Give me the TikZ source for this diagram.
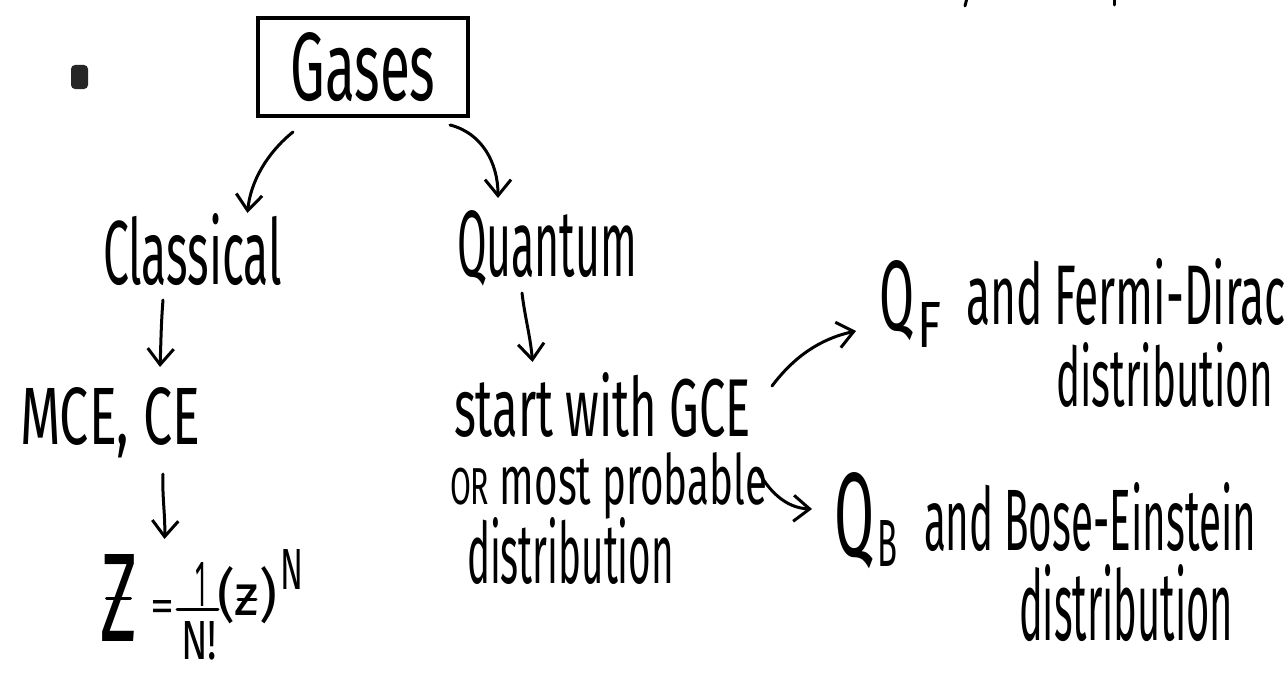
\documentclass[tikz,border=0pt]{standalone}
\usepackage{fontspec}
\usepackage{graphicx}
\usetikzlibrary{arrows.meta}
\newfontfamily\hand{Fira Sans}
\newcommand\hwtext[3]{\resizebox{#1pt}{#2pt}{\fontsize{\fpeval{1.4*#2}}{\fpeval{1.6*#2}}\hand #3}}
\tikzset{
  hw/.style={inner sep=0pt, outer sep=0pt, anchor=base west},
  boxnode/.style={draw, line width=3.5pt, inner sep=0pt, outer sep=0pt, minimum width=210pt, minimum height=98pt},
  ink/.style={line width=3pt, line cap=round},
  arr/.style={line width=3pt, line cap=round, -{Straight Barb[length=16pt,width=26pt,line width=3pt]}}
}
\begin{document}
\begin{tikzpicture}[x=1pt,y=-1pt]
\fill[white] (0,0) rectangle (1288,677);
\useasboundingbox (0,0) rectangle (1288,677);

% marks
\node[fill=black!85, rounded corners=4pt, minimum width=17pt, minimum height=24pt, inner sep=0pt] (bullet) at (79.5,77) {};
\draw[ink] (967,-2) -- (965,6);
\draw[ink] (1114,-2) -- (1114,5);

% nodes
\node[boxnode] (gases) at (363,67) {\hwtext{145}{68}{Gases}};
\node[hw] (classical) at (103,284) {\hwtext{179}{71}{Classical}};
\node[hw] (quantum) at (457,276) {\hwtext{180}{66}{Quantum}};
\node[hw] (mce) at (20,444) {\hwtext{180}{57}{MCE, CE}};

% formula
\node[hw] (bigZ) at (100,641) {\hwtext{37}{87}{Z}};
\draw[ink] ([xshift=-12pt,yshift=43pt]bigZ.base) -- ([xshift=12pt,yshift=43pt]bigZ.base);
\node[hw] (eqsign) at (150,621) {\hwtext{24}{21}{=}};
\node[hw] (one) at (195,606) {\hwtext{11}{44}{1}};
\draw[ink] (177,609) -- (218,609);
\node[hw] (nfact) at (181,659) {\hwtext{36}{38}{N!}};
\node[hw] (zpar) at (217,615) {\hwtext{60}{49}{(z)}};
\draw[ink] ([xshift=-9pt,yshift=16pt]zpar.base) -- ([xshift=9pt,yshift=16pt]zpar.base);
\node[hw] (expN) at (280,589) {\hwtext{23}{40}{N}};

% quantum branch
\node[hw] (qstart) at (454,436) {\hwtext{297}{64}{start with GCE}};
\node[hw] (qor) at (450,504) {\hwtext{317}{52}{\scalebox{0.75}{OR} most probable}};
\node[hw] (qdist) at (467,583) {\hwtext{207}{66}{distribution}};

\node[hw] (qF) at (879,330) {\hwtext{35}{70}{Q}};
\node[hw] (subF) at (917,347) {\hwtext{24}{45}{F}};
\node[hw] (fdA) at (966,324) {\hwtext{320}{66}{and Fermi-Dirac}};
\node[hw] (fdB) at (1056,406) {\hwtext{217}{64}{distribution}};

\node[hw] (qB) at (834,556) {\hwtext{40}{84}{Q}};
\node[hw] (subB) at (877,566) {\hwtext{20}{46}{B}};
\node[hw] (beA) at (924,550) {\hwtext{332}{68}{and Bose-Einstein}};
\node[hw] (beB) at (1019,640) {\hwtext{214}{76}{distribution}};

% connectors
\draw[arr] ([xshift=-70pt,yshift=-16pt]gases.south) .. controls +(-25,20) and +(3,-32) .. ([xshift=55pt,yshift=0pt]classical.north);
\draw[arr] ([xshift=87pt,yshift=-9pt]gases.south) .. controls +(32,8) and +(0,-35) .. ([xshift=-49pt,yshift=12pt]quantum.north);
\draw[arr] ([xshift=-29.5pt,yshift=-16pt]classical.base) .. controls +(-2,25) and +(1,-25) .. ([xshift=50pt,yshift=20pt]mce.north);
\draw[arr] ([xshift=53pt,yshift=-30pt]mce.base) .. controls +(-1,22) and +(1,-22) .. ([xshift=-36pt,yshift=23pt]one.north);
\draw[arr] ([xshift=-25pt,yshift=-17pt]quantum.base) .. controls +(3,25) and +(-2,-25) .. ([xshift=-70pt,yshift=10pt]qstart.north);
\draw[arr] ([xshift=21pt,yshift=50pt]qstart.base east) .. controls +(18,-24) and +(-41,9) .. ([xshift=-23pt,yshift=-1pt]qF.base west);
\draw[arr] ([xshift=-10pt,yshift=35pt]qor.base east) .. controls +(11,21) and +(-27,-1) .. ([xshift=-22pt,yshift=47pt]qB.base west);
\end{tikzpicture}
\end{document}
